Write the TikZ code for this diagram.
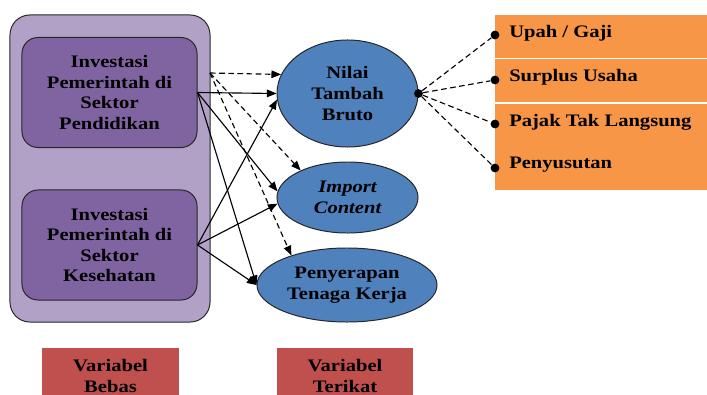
\documentclass[tikz,border=0pt]{standalone}
\usepackage{fontspec}
\setmainfont{Liberation Serif}[FakeStretch=1.17,
  BoldFont={Liberation Serif Bold},BoldItalicFont={Liberation Serif Bold Italic}]
\usetikzlibrary{positioning,arrows.meta,shapes.geometric}
\definecolor{outerfill}{RGB}{178,161,199}
\definecolor{boxfill}{RGB}{128,100,162}
\definecolor{ovalfill}{RGB}{ 79,129,189}
\definecolor{compfill}{RGB}{247,150, 70}
\definecolor{tagfill}{RGB}{192, 80, 77}

\begin{document}
\begin{tikzpicture}[
    x=0.025cm,y=-0.025cm,
    font=\fontsize{12.5}{14.6}\selectfont\bfseries,
    outer/.style={draw=black!85,fill=outerfill,line width=0.7pt,rounded corners=0.5cm,
                  minimum width=5cm,minimum height=7.675cm},
    invbox/.style={draw=black!85,fill=boxfill,line width=0.7pt,rounded corners=0.4cm,
                   minimum width=4.375cm,minimum height=2.75cm,align=center},
    oval/.style={ellipse,draw=black!85,fill=ovalfill,line width=0.7pt,inner sep=0pt,align=center},
    comp/.style={fill=compfill,minimum width=5.4cm,anchor=north west,inner sep=0pt},
    comptext/.style={anchor=west,inner sep=0pt},
    tag/.style={fill=tagfill,minimum width=3.4cm,minimum height=1.375cm,align=center},
    dot/.style={circle,fill=black,inner sep=0pt,minimum size=0.22cm},
    flow/.style={-{Triangle[length=2.4mm,width=1.9mm]},line width=0.8pt},
    hint/.style={flow,dash pattern=on 4pt off 2.5pt},
    link/.style={line width=0.8pt,dash pattern=on 4pt off 2.5pt},
]
\useasboundingbox (0,0) rectangle (707,394);
\clip (0,0) rectangle (707,394);

% --- independent variables ---
\node[outer]  (bebas) at (110,168.5) {};
\node[invbox] (inv1)  at (109.5,92.5) {Investasi\\Pemerintah di\\Sektor\\Pendidikan};
\node[invbox] (inv2)  at (109.5,245)  {Investasi\\Pemerintah di\\Sektor\\Kesehatan};

% --- dependent variables ---
\node[oval,minimum width=3.525cm,minimum height=2.675cm] (ntb) at (347.5,93.5) {Nilai\\Tambah\\Bruto};
\node[oval,minimum width=3.525cm,minimum height=1.775cm] (ic)  at (347.5,197.5) {\itshape Import\\\itshape Content};
\node[oval,minimum width=4.5cm,minimum height=1.85cm]    (pk)  at (347,285) {Penyerapan\\Tenaga Kerja};

% --- components of value added ---
\node[comp,minimum height=1.075cm] (c1) at (495,15)  {};
\node[comp,minimum height=1.075cm] (c2) at (495,59)  {};
\node[comp,minimum height=2.15cm]  (c3) at (495,104) {};
\node[comptext] (t1) at (509,33)  {Upah / Gaji};
\node[comptext] (t2) at (509,77)  {Surplus Usaha};
\node[comptext] (t3) at (509,122) {Pajak Tak Langsung};
\node[comptext] (t4) at (509,165) {Penyusutan};

% --- legend ---
\node[tag] (lb) at (110.5,376) {Variabel\\Bebas};
\node[tag] (lt) at (345,376)   {Variabel\\Terikat};

% solid effects
\draw[flow] (inv1.east) -- (ntb.west);
\draw[flow] (inv1.east) -- (ic.175);
\draw[flow] (inv1.east) -- (pk.west);
\draw[flow] (inv2.east) -- (ntb.185);
\draw[flow] (inv2.east) -- (ic.185);
\draw[flow] (inv2.east) -- (pk.west);

% dashed effects from the whole block
\coordinate (dsrc) at (210,73);
\draw[hint] (dsrc) -- (ntb.164);
\draw[hint] (dsrc) -- (ic.150);
\draw[hint] (dsrc) -- (pk.152);

% breakdown of NTB
\node[dot] (src) at (ntb.east) {};
\node[dot] (d1) at (495,35)  {};
\node[dot] (d2) at (495,80)  {};
\node[dot] (d3) at (495,124) {};
\node[dot] (d4) at (495,168) {};
\foreach \d in {d1,d2,d3,d4}
  \draw[link] (src) -- (\d);
\end{tikzpicture}
\end{document}
